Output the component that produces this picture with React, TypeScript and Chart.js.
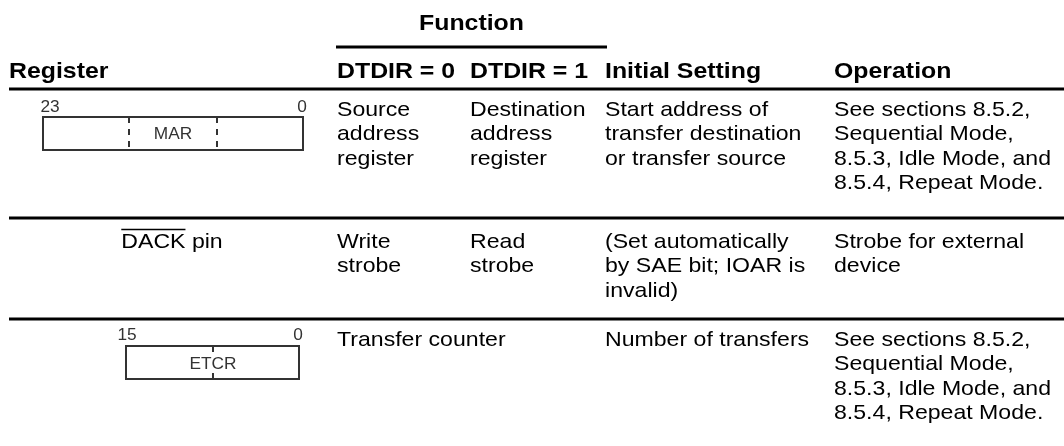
import React, { useEffect, useRef } from "react";
import { Chart, registerables } from "chart.js";

Chart.register(...registerables);

// ---------- data ----------
const groupTitle = "Function";
const headers = ["Register", "DTDIR = 0", "DTDIR = 1", "Initial Setting", "Operation"];
const registerNames = ["MAR", "DACK pin", "ETCR"];
const registerHighBits = ["23", "", "15"];
const registerLowBits = ["0", "", "0"];
const dtdir0Lines = [["Source", "address", "register"], ["Write", "strobe"], ["Transfer counter"]];
const dtdir1Lines = [["Destination", "address", "register"], ["Read", "strobe"], []];
const initialSettingLines = [
  ["Start address of", "transfer destination", "or transfer source"],
  ["(Set automatically", "by SAE bit; IOAR is", "invalid)"],
  ["Number of transfers"],
];
const operationLines = [
  ["See sections 8.5.2,", "Sequential Mode,", "8.5.3, Idle Mode, and", "8.5.4, Repeat Mode."],
  ["Strobe for external", "device"],
  ["See sections 8.5.2,", "Sequential Mode,", "8.5.3, Idle Mode, and", "8.5.4, Repeat Mode."],
];

// ---------- layout (value units of the hidden scales) ----------
const W = 1064;
const H = 446;
const colX = [9, 337, 470, 605, 834];
const groupSpan = [336, 607];
const titleY = 22;
const groupLineY = 47;
const headerY = 70;
const ruleY = [89, 218, 319];
const rowTextY = [108, 240, 338];
const lineH = 24.5;
const FONT = '"Liberation Sans", Arial, Helvetica, sans-serif';
const BODY = 21;
const BODY_SX = 1.1;
const HEAD = 22;
const HEAD_SX = 1.13;
const SMALL = 16;
const SMALL_SX = 1.08;

const tablePlugin = {
  id: "tablePlugin",
  afterDraw(chart: any) {
    const ctx: CanvasRenderingContext2D = chart.ctx;
    const xs = chart.scales.x;
    const ys = chart.scales.y;
    const px = (v: number) => xs.getPixelForValue(v);
    const py = (v: number) => ys.getPixelForValue(v);
    const cap = (size: number) => size * 0.36;

    const text = (t: string, x: number, yCenter: number, size: number, sx: number, bold: boolean, align: CanvasTextAlign, color: string) => {
      ctx.save();
      ctx.font = `${bold ? "bold " : ""}${size}px ${FONT}`;
      ctx.textAlign = align;
      ctx.textBaseline = "alphabetic";
      ctx.fillStyle = color;
      ctx.translate(x, yCenter + cap(size));
      ctx.scale(sx, 1);
      ctx.fillText(t, 0, 0);
      ctx.restore();
    };

    ctx.save();
    ctx.strokeStyle = "#000";

    // title
    text(groupTitle, px((groupSpan[0] + groupSpan[1]) / 2), py(titleY), HEAD, HEAD_SX, true, "center", "#000");
    ctx.lineWidth = 3;
    ctx.beginPath();
    ctx.moveTo(px(groupSpan[0]), py(groupLineY));
    ctx.lineTo(px(groupSpan[1]), py(groupLineY));
    ctx.stroke();

    // headers
    headers.forEach((h, i) => text(h, px(colX[i]), py(headerY), HEAD, HEAD_SX, true, "left", "#000"));

    // rules
    ruleY.forEach((y) => {
      ctx.beginPath();
      ctx.moveTo(px(colX[0]), py(y));
      ctx.lineTo(px(W), py(y));
      ctx.stroke();
    });

    // body text
    const cols = [dtdir0Lines, dtdir1Lines, initialSettingLines, operationLines];
    cols.forEach((col, ci) => {
      col.forEach((lines, ri) => {
        lines.forEach((t, li) => {
          text(t, px(colX[ci + 1]), py(rowTextY[ri] + li * lineH), BODY, BODY_SX, false, "left", "#000");
        });
      });
    });

    // register graphics
    const drawBox = (ri: number, x0: number, x1: number, y0: number, y1: number, bitsY: number, hiX: number) => {
      ctx.strokeStyle = "#333";
      ctx.lineWidth = 2;
      ctx.strokeRect(px(x0), py(y0), px(x1) - px(x0), py(y1) - py(y0));
      text(registerHighBits[ri], px(hiX), py(bitsY), SMALL, SMALL_SX, false, "center", "#333");
      text(registerLowBits[ri], px(x1) - 1, py(bitsY), SMALL, SMALL_SX, false, "center", "#333");
    };

    // MAR
    drawBox(0, 43, 303, 117, 150, 106, 50);
    ctx.setLineDash([6, 6]);
    [129, 217].forEach((x) => {
      ctx.beginPath();
      ctx.moveTo(px(x), py(117));
      ctx.lineTo(px(x), py(150));
      ctx.stroke();
    });
    ctx.setLineDash([]);
    text(registerNames[0], px(173), py(133.5), SMALL, SMALL_SX, false, "center", "#333");

    // DACK pin (overbar on DACK)
    const full = registerNames[1];
    const overPart = full.split(" ")[0];
    ctx.font = `${BODY}px ${FONT}`;
    const fw = ctx.measureText(full).width * BODY_SX;
    const ow = ctx.measureText(overPart).width * BODY_SX;
    const dx = px(172) - fw / 2;
    text(full, dx, py(rowTextY[1]), BODY, BODY_SX, false, "left", "#000");
    const barY = py(rowTextY[1]) + cap(BODY) - BODY * 0.72 - 3;
    ctx.strokeStyle = "#000";
    ctx.lineWidth = 1.5;
    ctx.beginPath();
    ctx.moveTo(dx, barY);
    ctx.lineTo(dx + ow, barY);
    ctx.stroke();

    // ETCR
    drawBox(2, 126, 299, 346, 379, 334, 127);
    ctx.beginPath();
    ctx.moveTo(px(213), py(346));
    ctx.lineTo(px(213), py(352));
    ctx.moveTo(px(213), py(373));
    ctx.lineTo(px(213), py(379));
    ctx.stroke();
    text(registerNames[2], px(213), py(363), SMALL, SMALL_SX, false, "center", "#333");

    ctx.restore();
  },
};

export default function App() {
  const ref = useRef<HTMLCanvasElement | null>(null);
  useEffect(() => {
    if (!ref.current) return;
    const chart = new Chart(ref.current, {
      type: "scatter",
      data: { datasets: [{ data: [] }] },
      options: {
        animation: false,
        responsive: false,
        devicePixelRatio: 1,
        layout: { padding: 0 },
        plugins: { legend: { display: false }, tooltip: { enabled: false }, title: { display: false } },
        scales: {
          x: { type: "linear", min: 0, max: W, display: false },
          y: { type: "linear", min: 0, max: H, reverse: true, display: false },
        },
      },
      plugins: [tablePlugin],
    });
    return () => chart.destroy();
  }, []);
  return (
    <div style={{ position: "fixed", left: 0, top: 0, width: W, height: H, background: "#fff" }}>
      <canvas ref={ref} width={W} height={H} style={{ display: "block" }} />
    </div>
  );
}
